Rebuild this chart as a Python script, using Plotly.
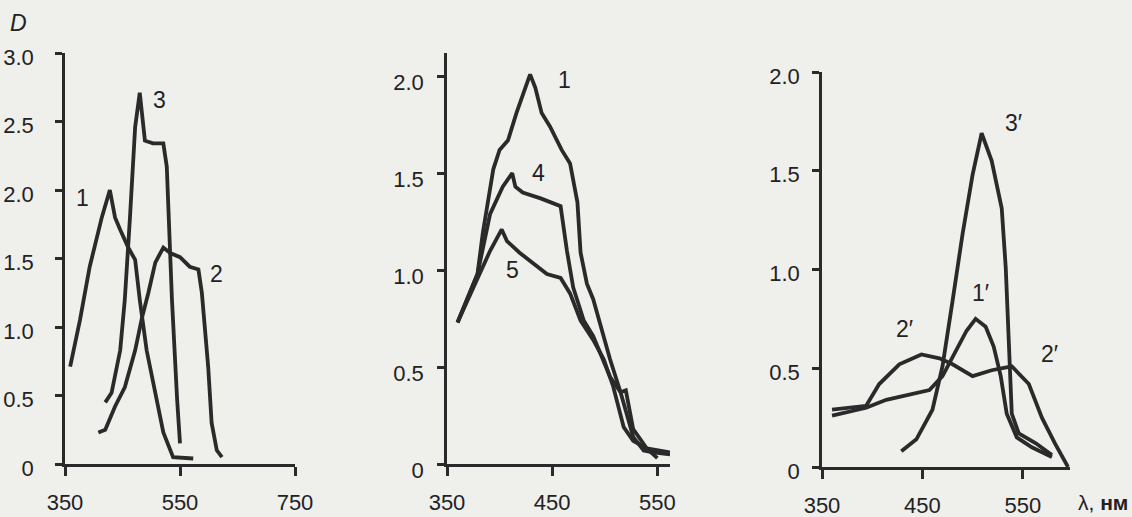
import plotly.graph_objects as go

# ---------------- data ----------------
# Panel A (wavelength, nm ; optical density D)
a1_x = [359, 376, 393, 405, 414, 428, 437, 446, 460, 472, 480, 492, 510, 521, 538, 573]
a1_y = [0.71, 1.05, 1.44, 1.64, 1.80, 2.00, 1.80, 1.71, 1.58, 1.49, 1.20, 0.83, 0.47, 0.23, 0.05, 0.04]
a3_x = [420, 431, 446, 454, 463, 472, 480, 489, 503, 521, 527, 536, 545, 550]
a3_y = [0.45, 0.52, 0.83, 1.20, 1.80, 2.46, 2.71, 2.36, 2.34, 2.34, 2.17, 1.20, 0.47, 0.15]
a2_x = [408, 420, 437, 454, 472, 484, 495, 507, 521, 533, 550, 567, 582, 588, 599, 605, 614, 623]
a2_y = [0.23, 0.25, 0.42, 0.56, 0.83, 1.07, 1.25, 1.47, 1.58, 1.54, 1.51, 1.44, 1.42, 1.25, 0.71, 0.30, 0.10, 0.05]

# Panel B
b1_x = [360, 379, 384, 394, 400, 408, 416, 424, 429, 434, 440, 448, 459, 467, 474, 477, 483, 489, 496, 505, 515, 527, 537, 546, 562]
b1_y = [0.73, 0.98, 1.19, 1.52, 1.62, 1.67, 1.81, 1.94, 2.01, 1.94, 1.81, 1.74, 1.62, 1.55, 1.35, 1.09, 0.93, 0.85, 0.71, 0.54, 0.37, 0.14, 0.07, 0.06, 0.05]
b4_x = [360, 379, 391, 403, 412, 415, 422, 439, 458, 464, 470, 480, 489, 505, 515, 520, 527, 540, 562]
b4_y = [0.73, 0.98, 1.29, 1.43, 1.50, 1.43, 1.40, 1.37, 1.33, 1.10, 0.91, 0.74, 0.66, 0.45, 0.37, 0.38, 0.18, 0.08, 0.06]
b5_x = [360, 379, 391, 402, 407, 419, 435, 445, 458, 467, 477, 489, 499, 508, 518, 527, 540, 550]
b5_y = [0.73, 0.96, 1.10, 1.21, 1.15, 1.09, 1.02, 0.98, 0.96, 0.88, 0.74, 0.64, 0.54, 0.40, 0.19, 0.12, 0.08, 0.03]

# Panel C
c2_x = [360, 381, 394, 407, 427, 449, 467, 480, 500, 519, 539, 556, 569, 582, 595]
c2_y = [0.29, 0.30, 0.31, 0.42, 0.52, 0.57, 0.55, 0.52, 0.46, 0.49, 0.51, 0.42, 0.25, 0.12, 0.0]
c1_x = [360, 394, 414, 440, 457, 470, 484, 494, 503, 513, 521, 528, 534, 544, 559, 579]
c1_y = [0.26, 0.30, 0.34, 0.37, 0.39, 0.46, 0.59, 0.69, 0.75, 0.71, 0.61, 0.46, 0.27, 0.15, 0.10, 0.05]
c3_x = [429, 444, 460, 470, 480, 490, 500, 509, 519, 529, 533, 536, 539, 546, 563, 579]
c3_y = [0.08, 0.14, 0.29, 0.51, 0.84, 1.18, 1.48, 1.69, 1.55, 1.31, 1.01, 0.59, 0.27, 0.17, 0.12, 0.06]

y_ticks = [0, 0.5, 1.0, 1.5, 2.0, 2.5, 3.0]
y_ticktext = ["0", "0.5", "1.0", "1.5", "2.0", "2.5", "3.0"]
xa_ticks = [350, 550, 750]
xb_ticks = [350, 450, 550]
xc_ticks = [350, 450, 550]

# labels: (text, x, y, axis index)
curve_labels = [
    ("1", 380, 1.94, 1), ("3", 515, 2.66, 1), ("2", 614, 1.39, 1),
    ("1", 462, 1.98, 2), ("4", 437, 1.50, 2), ("5", 412, 1.0, 2),
    ("3′", 541, 1.74, 3), ("1′", 508, 0.88, 3), ("2′", 432, 0.70, 3), ("2′", 577, 0.57, 3),
]

# ---------------- figure ----------------
LINE = dict(color="#2a2a2a", width=3.8)
FONT = "Liberation Sans, Arial, sans-serif"
W, H = 1132, 517


def px_x(p):
    return p / W


def px_y(p):
    return 1 - p / H


fig = go.Figure()
series = [
    (a1_x, a1_y, "x", "y"), (a3_x, a3_y, "x", "y"), (a2_x, a2_y, "x", "y"),
    (b1_x, b1_y, "x2", "y2"), (b4_x, b4_y, "x2", "y2"), (b5_x, b5_y, "x2", "y2"),
    (c2_x, c2_y, "x3", "y3"), (c1_x, c1_y, "x3", "y3"), (c3_x, c3_y, "x3", "y3"),
]
for xs, ys, xa, ya in series:
    fig.add_trace(go.Scatter(x=xs, y=ys, mode="lines", line=LINE, xaxis=xa, yaxis=ya,
                             showlegend=False, hoverinfo="skip", cliponaxis=False))


def xaxis(dom, rng, ticks, anchor):
    return dict(domain=dom, range=rng, tickvals=ticks, ticktext=[str(t) for t in ticks],
                showline=True, linecolor="#2a2a2a", linewidth=2.5, ticks="outside",
                ticklen=9, tickwidth=2.5, tickcolor="#2a2a2a", showgrid=False, zeroline=False,
                anchor=anchor, ticklabelstandoff=8, automargin=False,
                tickfont=dict(family=FONT, size=22, color="#222"))


def yaxis(dom, rng, ticks, anchor, standoff, shift):
    return dict(domain=dom, range=rng, tickvals=ticks,
                ticktext=[y_ticktext[y_ticks.index(t)] for t in ticks],
                showline=True, linecolor="#2a2a2a", linewidth=2.5, ticks="outside",
                ticklen=7, tickwidth=2.5, tickcolor="#2a2a2a", showgrid=False, zeroline=False,
                anchor=anchor, ticklabelstandoff=standoff, ticklabelshift=shift, automargin=False,
                tickfont=dict(family=FONT, size=22, color="#222"))


fig.update_layout(
    template="none",
    width=W, height=H,
    margin=dict(l=0, r=0, t=0, b=0),
    paper_bgcolor="#efefec", plot_bgcolor="rgba(0,0,0,0)",
    xaxis=xaxis([px_x(65), px_x(295)], [350, 750], xa_ticks, "y"),
    yaxis=yaxis([px_y(464), px_y(53)], [0, 3.0], y_ticks, "x", 17, 4),
    xaxis2=xaxis([px_x(447), px_x(670)], [350, 562], xb_ticks, "y2"),
    yaxis2=yaxis([px_y(464), px_y(53)], [0, 2.12], y_ticks[:5], "x2", 9, 6),
    xaxis3=xaxis([px_x(822), px_x(1070)], [350, 597], xc_ticks, "y3"),
    yaxis3=yaxis([px_y(467), px_y(72)], [0, 2.0], y_ticks[:5], "x3", 8, 4),
)

anns = []
for txt, x, y, i in curve_labels:
    s = "" if i == 1 else str(i)
    anns.append(dict(text=txt, x=x, y=y, xref="x" + s, yref="y" + s, showarrow=False,
                     xanchor="center", yanchor="middle",
                     font=dict(family=FONT, size=23, color="#222")))
anns.append(dict(text="<i>D</i>", x=px_x(18), y=px_y(23), xref="paper", yref="paper",
                 xanchor="center", yanchor="middle", showarrow=False,
                 font=dict(family=FONT, size=23, color="#222")))
anns.append(dict(text="λ, <b>нм</b>", x=px_x(1103), y=px_y(502), xref="paper", yref="paper",
                 xanchor="center", yanchor="middle", showarrow=False,
                 font=dict(family=FONT, size=21, color="#222")))
fig.update_layout(annotations=anns)

fig.write_html("out.html", config={"displayModeBar": False},
               post_script="document.body.style.margin='0';document.body.style.overflow='hidden';")
